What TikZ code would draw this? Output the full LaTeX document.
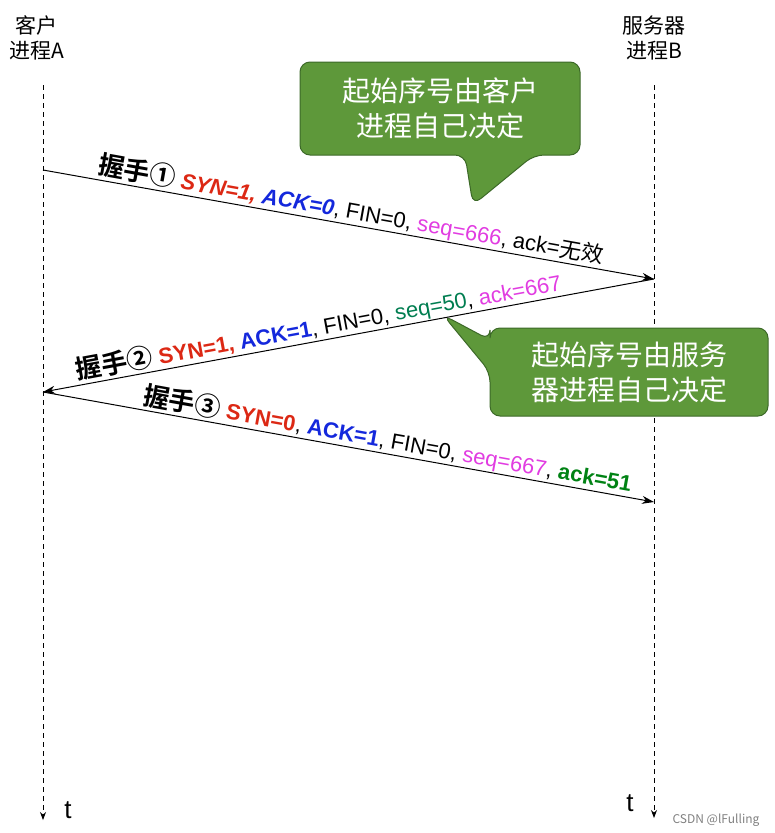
\documentclass[tikz,border=0pt]{standalone}
\usepackage{fontspec}
\setmainfont{Liberation Sans}
\newfontfamily\cjk{Noto Sans CJK SC}
\newfontfamily\cjkb{Noto Sans CJK SC Bold}
\usetikzlibrary{arrows.meta}
\definecolor{cred}{RGB}{220,40,20}
\definecolor{cblue}{RGB}{20,40,220}
\definecolor{cmag}{RGB}{225,60,225}
\definecolor{cteal}{RGB}{0,125,80}
\definecolor{cgrn}{RGB}{0,130,20}
\definecolor{boxfill}{RGB}{94,152,58}
\definecolor{boxdraw}{RGB}{60,105,40}
\begin{document}
\begin{tikzpicture}[x=1pt,y=-1pt,
  life/.style={dash pattern=on 5pt off 4pt,line width=0.8pt,-{Stealth[length=8pt,width=6pt]}},
  msg/.style={line width=1pt,-{Stealth[length=12pt,width=8pt]}},
  lbl/.style={sloped,above,inner sep=1pt,font=\fontsize{22}{25}\selectfont},
  hdr/.style={font=\cjk\fontsize{21}{25}\selectfont,align=center},
  callout/.style={fill=boxfill,draw=boxdraw,line width=1pt,rounded corners=10pt},
  ctext/.style={text=white,font=\cjk\fontsize{28}{35}\selectfont,align=center}]
\useasboundingbox (0,0) rectangle (775,833);
\node[hdr] (ha) at (37,38) {客户\\进程A};
\node[hdr] (hb) at (654,38) {服务器\\进程B};
\coordinate (at) at (43,85);
\coordinate (ab) at (43,820);
\coordinate (bt) at (654,85);
\coordinate (bb) at (654,818);
\draw[life] (at) -- (ab);
\draw[life] (bt) -- (bb);
\node[font=\fontsize{26}{28}\selectfont] (ta) at (68,810) {t};
\node[font=\fontsize{26}{28}\selectfont] (tb) at (630,803) {t};
\coordinate (a1) at (43,170);
\coordinate (b1) at (654,279);
\coordinate (a2) at (43,392);
\coordinate (b3) at (654,502);
\draw[msg] (a1) -- (b1);
\draw[msg] (b1) -- (a2);
\draw[msg] (a2) -- (b3);
\path (a1) -- (b1) node[lbl,pos=0.5] (l1) {{\cjkb\fontsize{26}{28}\selectfont 握手①} \textcolor{cred}{\bfseries\itshape SYN=1,} \textcolor{cblue}{\bfseries\itshape ACK=0}, FIN=0, \textcolor{cmag}{seq=666}, ack={\cjk 无效}};
\path (a2) -- (b1) node[lbl,pos=0.455] (l2) {{\cjkb\fontsize{26}{28}\selectfont 握手②} \textcolor{cred}{\bfseries SYN=1,} \textcolor{cblue}{\bfseries ACK=1}, FIN=0, \textcolor{cteal}{seq=50}, \textcolor{cmag}{ack=667}};
\path (a2) -- (b3) node[lbl,pos=0.56] (l3) {{\cjkb\fontsize{26}{28}\selectfont 握手③} \textcolor{cred}{\bfseries SYN=0}, \textcolor{cblue}{\bfseries ACK=1}, FIN=0, \textcolor{cmag}{seq=667}, \textcolor{cgrn}{\bfseries ack=51}};
\draw[callout] (300,62) -- (580,62) -- (580,155) -- (534,155) -- (473,205) -- (465,155) -- (300,155) -- cycle;
\node[ctext] (c1) at (440,108) {起始序号由客户\\进程自己决定};
\draw[callout] (490,328) -- (768,328) -- (768,416) -- (490,416) -- (490,372) -- (443,315) -- (490,340) -- cycle;
\node[ctext] (c2) at (629,372) {起始序号由服务\\器进程自己决定};
\node[text=gray,font=\cjk\fontsize{12}{14}\selectfont] (wm) at (716,820) {CSDN @lFulling};
\end{tikzpicture}
\end{document}
